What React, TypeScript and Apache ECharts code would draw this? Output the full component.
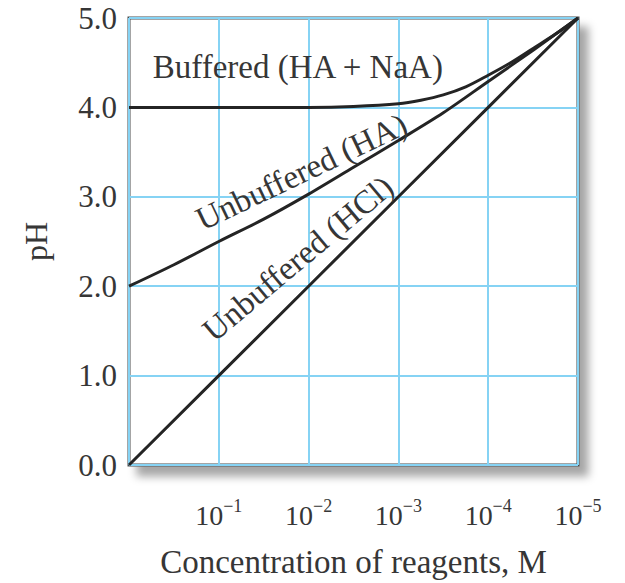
import React, { useEffect, useRef } from 'react';
import * as echarts from 'echarts';

// x = -log10(concentration), so tick n is 10^-n M
const concExponents = [0, 1, 2, 3, 4, 5];
const phTicks = [0, 1, 2, 3, 4, 5];

const hclX = [0, 1, 2, 3, 4, 5];
const hclPH = [0, 1, 2, 3, 4, 5];

const haX = [0, 0.5, 1, 1.5, 2, 2.5, 3, 3.5, 4, 4.5, 5];
const haPH = [2.0, 2.24, 2.5, 2.75, 3.03, 3.33, 3.63, 3.94, 4.29, 4.64, 5.0];

const bufX = [0, 1, 2, 2.5, 3, 3.25, 3.5, 3.75, 4, 4.25, 4.5, 4.75, 5];
const bufPH = [4.0, 4.0, 4.0, 4.01, 4.04, 4.08, 4.14, 4.23, 4.36, 4.5, 4.66, 4.82, 5.0];

const labelBuffered = 'Buffered (HA + NaA)';
const labelHA = 'Unbuffered (HA)';
const labelHCl = 'Unbuffered (HCl)';

const FONT = '"Liberation Serif", "Times New Roman", serif';
const TEXT = '#363636';
const LINE = '#242424';
const GRID = '#86d3f4';

const zip = (xs: number[], ys: number[]) => xs.map((x, i) => [x, ys[i]]);

export default function App() {
  const ref = useRef<HTMLDivElement>(null);
  useEffect(() => {
    const chart = echarts.init(ref.current!, null, { renderer: 'svg' });
    const lineSeries = (name: string, xs: number[], ys: number[], smooth: boolean) => ({
      type: 'line',
      name,
      data: zip(xs, ys),
      showSymbol: false,
      smooth: smooth ? 0.3 : false,
      lineStyle: { color: LINE, width: 3 },
      z: 5,
    });
    chart.setOption({
      animation: false,
      backgroundColor: '#ffffff',
      grid: {
        left: 129,
        right: 47,
        top: 18,
        bottom: 117,
        show: true,
        backgroundColor: '#ffffff',
        borderColor: '#4a4a4a',
        borderWidth: 3,
        shadowColor: 'rgba(0,0,0,0.35)',
        shadowBlur: 8,
        shadowOffsetX: 9,
        shadowOffsetY: 10,
      },
      xAxis: {
        type: 'value',
        min: 0,
        max: 5,
        interval: 1,
        axisLine: { show: false },
        axisTick: { show: false },
        splitLine: { show: true, lineStyle: { color: GRID, width: 2 } },
        axisLabel: {
          margin: 32,
          formatter: (v: number) => (concExponents.includes(v) && v > 0 ? `{b|10}{s|−${v}}` : ''),
          rich: {
            b: { fontFamily: FONT, fontSize: 28, lineHeight: 32, color: TEXT, verticalAlign: 'bottom' },
            s: { fontFamily: FONT, fontSize: 18, lineHeight: 18, color: TEXT, verticalAlign: 'top' },
          },
        },
        name: 'Concentration of reagents, M',
        nameLocation: 'middle',
        nameGap: 80,
        nameTextStyle: { fontFamily: FONT, fontSize: 33, color: TEXT },
      },
      yAxis: {
        type: 'value',
        min: 0,
        max: 5,
        interval: 1,
        axisLine: { show: false },
        axisTick: { show: false },
        splitLine: { show: true, lineStyle: { color: GRID, width: 2 } },
        axisLabel: {
          margin: 12,
          fontFamily: FONT,
          fontSize: 31,
          color: TEXT,
          formatter: (v: number) => (phTicks.includes(v) ? v.toFixed(1) : ''),
        },
        name: 'pH',
        nameLocation: 'middle',
        nameRotate: 90,
        nameGap: 77,
        nameTextStyle: { fontFamily: FONT, fontSize: 32, color: TEXT },
      },
      series: [
        lineSeries('HCl', hclX, hclPH, false),
        lineSeries('HA', haX, haPH, true),
        lineSeries('HA + NaA', bufX, bufPH, true),
      ],
    });
    const px = (x: number, y: number) => chart.convertToPixel({ gridIndex: 0 }, [x, y]) as number[];
    const txt = (text: string, at: number[], deg: number) => ({
      type: 'text',
      x: at[0],
      y: at[1],
      rotation: (deg * Math.PI) / 180,
      z: 10,
      style: {
        text,
        fill: TEXT,
        fontFamily: FONT,
        fontSize: 33,
        align: 'center',
        verticalAlign: 'middle',
      },
    });
    chart.setOption({
      graphic: [
        txt(labelBuffered, px(1.88, 4.45), 0),
        txt(labelHA, px(1.92, 3.28), 25.5),
        txt(labelHCl, px(1.88, 2.31), 40),
      ],
    });
    return () => chart.dispose();
  }, []);
  return <div ref={ref} style={{ position: 'fixed', left: 0, top: 0, width: 625, height: 583 }} />;
}
